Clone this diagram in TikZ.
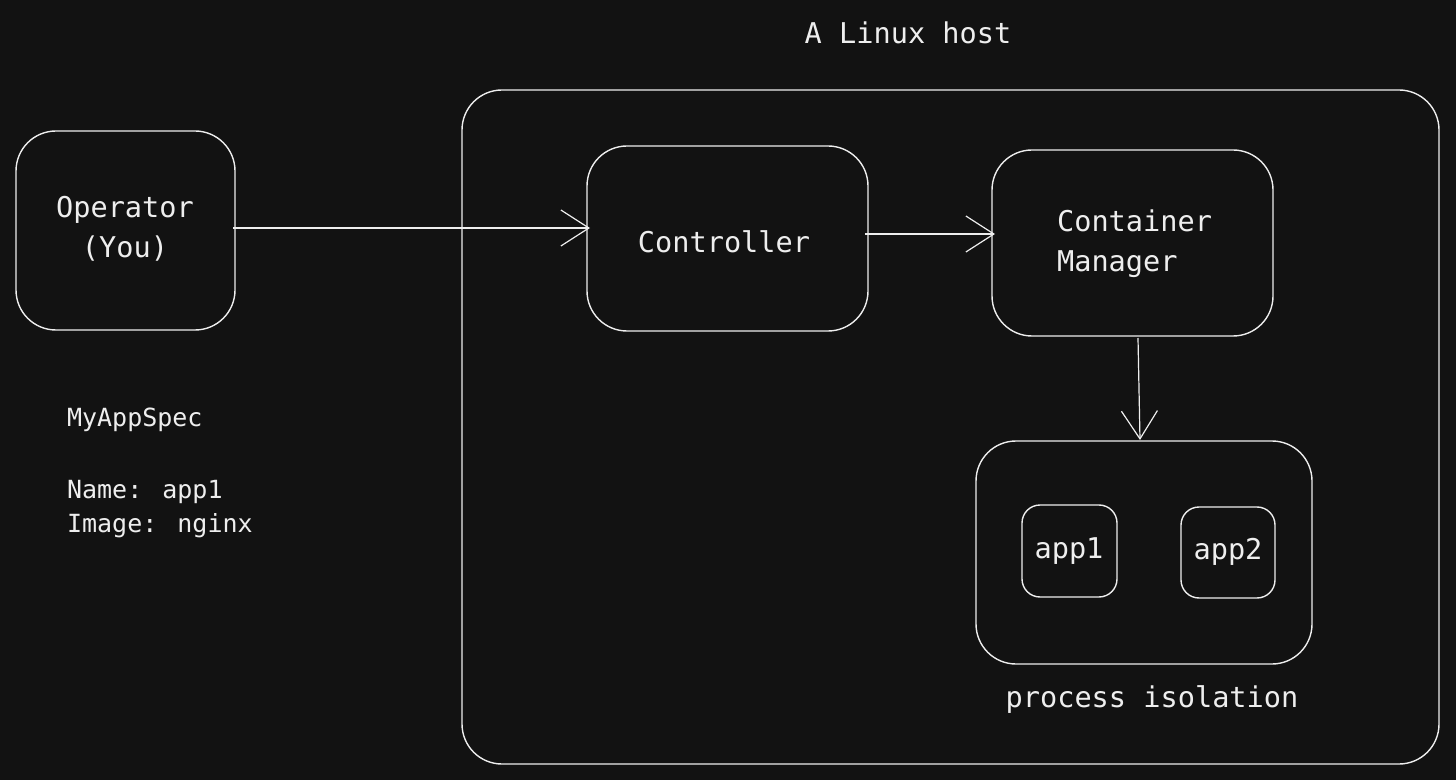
\documentclass[tikz,border=0pt]{standalone}
\usepackage{fontspec}
\setmainfont{DejaVu Sans Mono}
\usetikzlibrary{arrows.meta}
\definecolor{bg}{HTML}{121212}
\definecolor{ink}{HTML}{EEEEEE}
\begin{document}
\begin{tikzpicture}[x=0.5pt,y=-0.5pt,
  box/.style={draw=ink,line width=0.7pt},
  lbl/.style={text=ink,font=\fontsize{14.3}{20}\selectfont,align=center},
  small/.style={text=ink,font=\fontsize{12.5}{17}\selectfont,align=left},
  arr/.style={draw=ink,line width=0.6pt,-{Straight Barb[length=14pt,width=18pt]}}]
\fill[bg] (0,0) rectangle (1456,780);
\useasboundingbox (0,0) rectangle (1456,780);
\draw[box,rounded corners=20pt] (462,90) rectangle (1439,764);
\draw[box,rounded corners=20pt] (16,131) rectangle (235,330);
\draw[box,rounded corners=20pt] (587,146) rectangle (868,331);
\draw[box,rounded corners=20pt] (992,150) rectangle (1273,336);
\draw[box,rounded corners=20pt] (976,441) rectangle (1312,664);
\draw[box,rounded corners=9pt] (1022,505) rectangle (1117,597);
\draw[box,rounded corners=9pt] (1181,507) rectangle (1275,598);
\node[lbl] (host) at (908,33) {A Linux host};
\node[lbl] (op) at (125,229) {Operator\\(You)};
\node[lbl] (ctl) at (724,242) {Controller};
\node[lbl,align=left,anchor=west] (cm) at (1050,244) {Container\\Manager};
\node[lbl] (a1) at (1069,551) {app1};
\node[lbl] (a2) at (1228,552) {app2};
\node[lbl] (iso) at (1152,700) {process isolation};
\node[small,anchor=north west] (spec) at (60,401) {MyAppSpec\\[19pt]Name: app1\\Image: nginx};
\coordinate (o1) at (233,228); \coordinate (c1) at (590,228);
\coordinate (o2) at (865,234); \coordinate (c2) at (995,234);
\coordinate (o3) at (1138,338); \coordinate (c3) at (1140,440);
\draw[arr] (o1) -- (c1);
\draw[arr] (o2) -- (c2);
\draw[arr] (o3) -- (c3);
\end{tikzpicture}
\end{document}
